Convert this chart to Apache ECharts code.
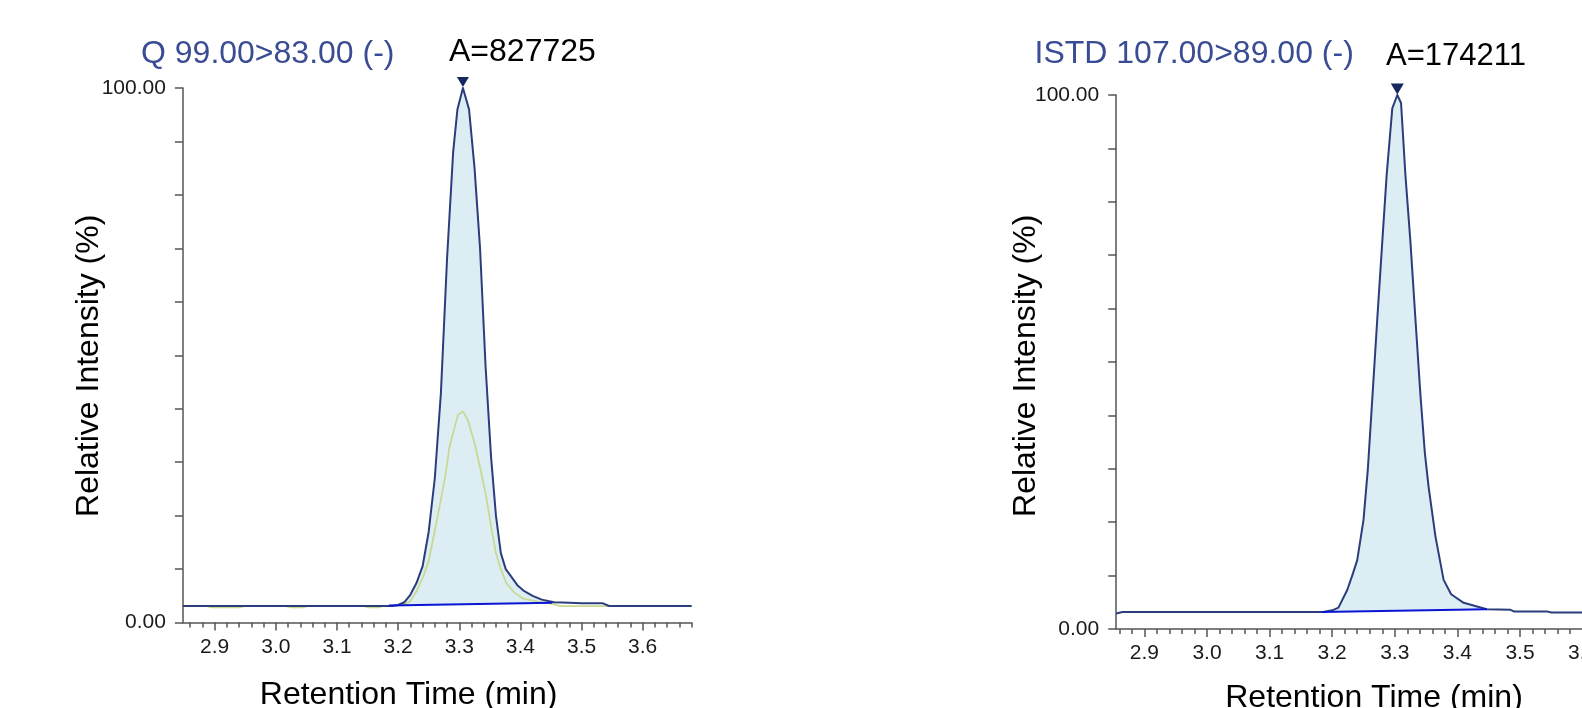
<!DOCTYPE html>
<html>
<head>
<meta charset="utf-8">
<script src="https://cdn.jsdelivr.net/npm/echarts@6/dist/echarts.min.js"></script>
<style>
html,body{margin:0;padding:0;background:#fff;}
#c{width:1582px;height:708px;}
</style>
</head>
<body>
<div id="c"></div>
<script>
// ---------- DATA ----------
// Left panel: quantifier trace (Q 99.00>83.00), [time (min), relative intensity %]
var leftQuant = [
  [2.848,3.1],[2.90,3.1],[3.00,3.1],[3.10,3.1],[3.19,3.1],[3.20,3.3],[3.21,3.8],[3.22,5.2],
  [3.23,7.4],[3.24,10.5],[3.25,17],[3.26,27],[3.27,43],[3.28,68],[3.29,88],[3.297,96],
  [3.306,100],[3.316,96],[3.325,85],[3.334,70],[3.343,48],[3.352,31],[3.36,20],[3.368,13],
  [3.376,10],[3.385,8.6],[3.395,7],[3.405,6],[3.42,5],[3.435,4.3],[3.455,3.8],[3.48,3.7],
  [3.50,3.6],[3.535,3.6],[3.545,3.1],[3.68,3.1]
];
// Left panel: qualifier trace (green)
var leftQual = [
  [2.848,3.1],[2.885,3.1],[2.895,2.85],[2.94,2.85],[2.952,3.1],[3.015,3.1],[3.025,2.85],[3.045,2.85],
  [3.053,3.1],[3.142,3.1],[3.152,2.85],[3.168,2.85],[3.175,3.1],[3.20,3.2],[3.21,3.5],[3.219,3.9],
  [3.23,5.8],[3.241,8.6],[3.25,11.5],[3.257,15.5],[3.264,19.5],[3.271,23.6],[3.278,28],[3.284,32.9],
  [3.298,38.9],[3.306,39.5],[3.314,37.9],[3.325,33.6],[3.335,28.5],[3.344,23.6],[3.352,18],[3.36,13],
  [3.368,10],[3.377,7.4],[3.39,5.6],[3.404,4.5],[3.43,3.9],[3.453,3.5],[3.464,3.1],[3.68,3.1]
];
// Left integration baseline
var leftBaseline = [[3.185,3.2],[3.452,3.7]];
var leftPeak = [3.306,100];

// Right panel: internal standard trace (ISTD 107.00>89.00)
var rightIstd = [
  [2.855,2.9],[2.865,3.2],[3.00,3.2],[3.10,3.2],[3.186,3.2],[3.20,3.5],[3.21,4.0],[3.224,7.3],
  [3.232,10],[3.24,12.9],[3.25,20.4],[3.257,30],[3.264,43],[3.272,58],[3.28,72.5],[3.287,85],
  [3.296,97.5],[3.304,100],[3.31,98.5],[3.317,85],[3.325,72.5],[3.333,58],[3.341,43.8],[3.348,33],
  [3.354,26.6],[3.365,17.3],[3.378,9.2],[3.39,6.5],[3.41,4.9],[3.447,3.7],[3.485,3.6],[3.49,3.3],
  [3.543,3.3],[3.55,3.1],[3.70,3.1]
];
var rightBaseline = [[3.183,3.2],[3.447,3.7]];
var rightPeak = [3.304,100];

// Axis ticks / labels
var xMajorTicks = [2.9,3.0,3.1,3.2,3.3,3.4,3.5,3.6,3.7];
var xMinorTicks = [2.86,2.88,2.90,2.92,2.94,2.96,2.98,3.00,3.02,3.04,3.06,3.08,3.10,3.12,3.14,3.16,3.18,
  3.20,3.22,3.24,3.26,3.28,3.30,3.32,3.34,3.36,3.38,3.40,3.42,3.44,3.46,3.48,3.50,3.52,3.54,3.56,3.58,
  3.60,3.62,3.64,3.66,3.68,3.70];
var yTicks = [0,10,20,30,40,50,60,70,80,90,100];
var yLabelValues = [0,100];

var leftTitle = 'Q 99.00>83.00 (-)';
var rightTitle = 'ISTD 107.00>89.00 (-)';
var leftArea = 'A=827725';
var rightArea = 'A=174211';
var xName = 'Retention Time (min)';
var yName = 'Relative Intensity (%)';

// ---------- STYLE ----------
var FONT = "'Liberation Sans', Arial, sans-serif";
var traceColor = '#2c3d7c';
var fillColor = '#dcedf4';
var qualColor = '#c6d98f';
var baseColor = '#0b16d4';
var axisColor = '#555555';
var titleColor = '#3a4c93';

var panels = [
  {grid:{left:182.9, top:88, width:508.7, height:534.6}, xmin:2.848, xmax:3.68},
  {grid:{left:1116.2, top:95, width:529, height:534}, xmin:2.855, xmax:3.70}
];

function inRange(arr, lo, hi){ return arr.filter(function(v){ return v >= lo - 1e-9 && v <= hi + 1e-9; }); }

var grids = [], xAxes = [], yAxes = [];
panels.forEach(function(p, i){
  var g = Object.assign({containLabel:false, outerBoundsMode:'none'}, p.grid);
  grids.push(g);
  // major x axis
  xAxes.push({
    type:'value', gridIndex:i, min:p.xmin, max:p.xmax, position:'bottom', offset:0,
    axisLine:{show:true, onZero:false, lineStyle:{color:axisColor, width:1.5}},
    axisTick:{show:true, length:8, customValues:inRange(xMajorTicks,p.xmin,p.xmax), lineStyle:{color:axisColor, width:1.5}},
    axisLabel:{show:true, margin:14, customValues:inRange(xMajorTicks,p.xmin,p.xmax), color:'#1a1a1a', fontSize:21, fontFamily:FONT,
      formatter:function(v){ return v.toFixed(1); }},
    splitLine:{show:false}
  });
  // minor ticks
  xAxes.push({
    type:'value', gridIndex:i, min:p.xmin, max:p.xmax, position:'bottom', offset:0,
    axisLine:{show:false, onZero:false},
    axisTick:{show:true, length:5, customValues:inRange(xMinorTicks,p.xmin,p.xmax), lineStyle:{color:axisColor, width:1.5}},
    axisLabel:{show:false},
    splitLine:{show:false}
  });
  yAxes.push({
    type:'value', gridIndex:i, min:0, max:100, position:'left',
    axisLine:{show:true, onZero:false, lineStyle:{color:axisColor, width:1.5}},
    axisTick:{show:true, length:8, customValues:yTicks, lineStyle:{color:axisColor, width:1.5}},
    axisLabel:{show:true, margin:17, customValues:yLabelValues, color:'#1a1a1a', fontSize:21, fontFamily:FONT,
      formatter:function(v){ return v.toFixed(2); }},
    splitLine:{show:false}
  });
});

function fillSeries(trace, baseline, xIdx, yIdx){
  var pts = trace.filter(function(d){ return d[0] > baseline[0][0] && d[0] < baseline[1][0]; });
  return {
    type:'custom', xAxisIndex:xIdx, yAxisIndex:yIdx, z:1, silent:true,
    data:[baseline[0]],
    renderItem:function(params, api){
      var poly = [api.coord(baseline[0])];
      pts.forEach(function(d){ poly.push(api.coord(d)); });
      poly.push(api.coord(baseline[1]));
      return {type:'polygon', shape:{points:poly}, style:{fill:fillColor, stroke:null}};
    }
  };
}

function lineSeries(data, color, width, xIdx, yIdx, z){
  return {type:'line', xAxisIndex:xIdx, yAxisIndex:yIdx, data:data, showSymbol:false, symbol:'none',
    smooth:false, z:z, silent:true, animation:false,
    lineStyle:{color:color, width:width, join:'round'}};
}

var series = [];
// left
series.push(fillSeries(leftQuant, leftBaseline, 0, 0));
series.push(lineSeries(leftQual, qualColor, 1.7, 0, 0, 2));
var lq = lineSeries(leftQuant, traceColor, 2, 0, 0, 3);
lq.markPoint = {silent:true, animation:false, data:[{coord:leftPeak, symbol:'triangle', symbolRotate:180,
  symbolSize:[12,10], symbolOffset:[0,-6], itemStyle:{color:'#14285f'}, label:{show:false}}]};
series.push(lq);
series.push(lineSeries(leftBaseline, baseColor, 2, 0, 0, 4));
// right
series.push(fillSeries(rightIstd, rightBaseline, 2, 1));
var rq = lineSeries(rightIstd, traceColor, 2, 2, 1, 3);
rq.markPoint = {silent:true, animation:false, data:[{coord:rightPeak, symbol:'triangle', symbolRotate:180,
  symbolSize:[13,11], symbolOffset:[0,-6], itemStyle:{color:'#14285f'}, label:{show:false}}]};
series.push(rq);
series.push(lineSeries(rightBaseline, baseColor, 2, 2, 1, 4));

function txt(text, x, y, color, size, align, rot){
  return {type:'text', x:x, y:y, rotation:rot||0, silent:true,
    style:{text:text, fill:color, font:size+'px '+FONT, align:align, verticalAlign:'middle',
      textAlign:align, textVerticalAlign:'middle'}};
}

var graphics = [
  txt(leftTitle, 141, 54, titleColor, 32, 'left'),
  txt(leftArea, 449, 52.5, '#000', 32, 'left'),
  txt(rightTitle, 1034.5, 54, titleColor, 32, 'left'),
  txt(rightArea, 1386, 56, '#000', 31, 'left'),
  txt(xName, 408.6, 695.5, '#000', 32, 'center'),
  txt(xName, 1374, 698.5, '#000', 32, 'center'),
  txt(yName, 89, 365.8, '#000', 32, 'center', Math.PI/2),
  txt(yName, 1026, 365.8, '#000', 32, 'center', Math.PI/2)
];

var chart = echarts.init(document.getElementById('c'), null, {renderer:'canvas'});
chart.setOption({
  animation:false,
  backgroundColor:'#ffffff',
  grid:grids, xAxis:xAxes, yAxis:yAxes, series:series,
  graphic:{elements:graphics}
});
</script>
</body>
</html>
